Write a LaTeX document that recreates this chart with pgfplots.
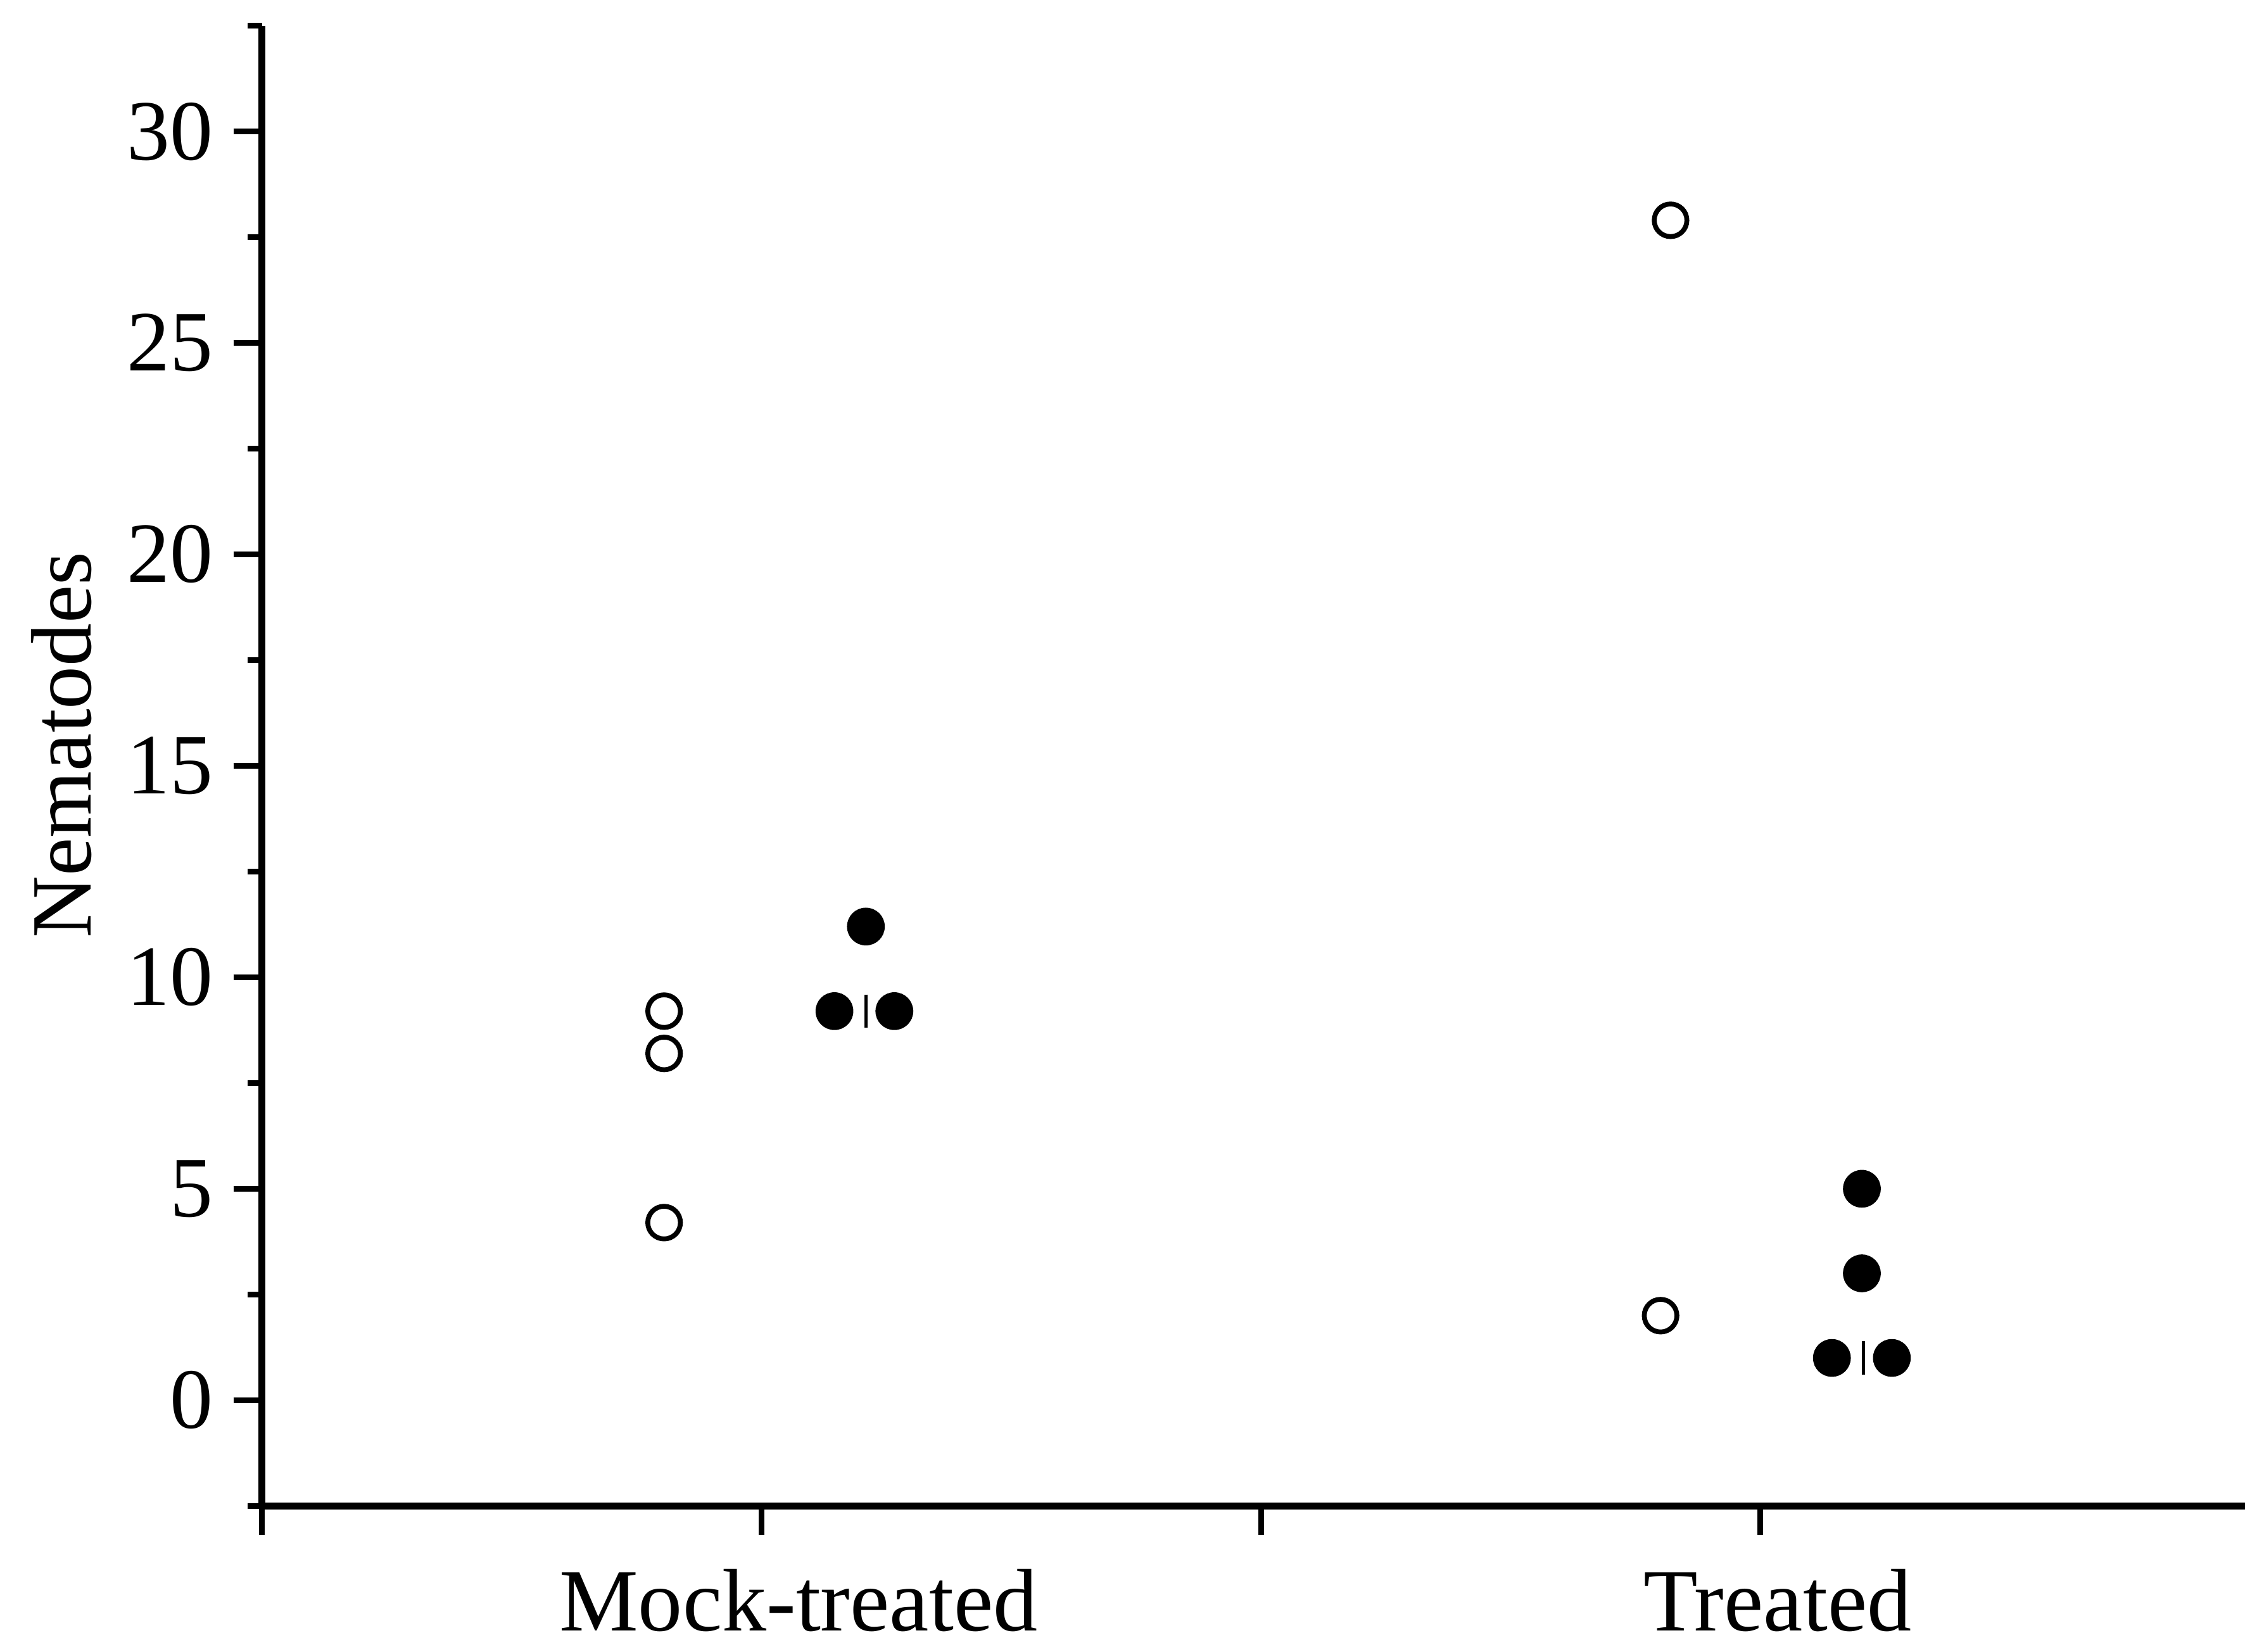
\documentclass[border=0pt]{standalone}
\usepackage{fontspec}
\setmainfont{Liberation Serif}
\usepackage{pgfplots}
\pgfplotsset{compat=1.18}
\begin{document}
\begin{tikzpicture}
\path[use as bounding box] (-45.75pt,-25.5pt) rectangle (346.25pt,263pt);
\begin{axis}[
  at={(0,0)}, anchor=south west,
  scale only axis, width=346.25pt, height=258.5pt,
  xmin=0, xmax=3.97, ymin=-2.5, ymax=32.5,
  axis x line=bottom, axis y line=left,
  axis line style={-, line width=1.2pt},
  tick align=outside,
  xtick={0,1,2,3}, xticklabels={},
  ytick={0,5,...,30},
  minor ytick={-2.5,2.5,...,32.5},
  major tick length=5pt, minor tick length=2.5pt,
  every tick/.style={black, line width=1pt},
  extra x ticks={1.074,3.034},
  extra x tick labels={Mock-treated,Treated},
  extra x tick style={major tick length=0pt, tick label style={font=\fontsize{15.5}{18}\selectfont, yshift=-7.5pt}},
  y tick label style={font=\fontsize{15}{18}\selectfont},
  /pgf/number format/assume math mode=true,
  ylabel={Nematodes},
  ylabel style={font=\fontsize{15}{18}\selectfont, at={(axis description cs:-0.101,0.514)}, anchor=center},
  clip=false,
]
% Mock-treated, open
\addplot[only marks, mark=o, mark size=2.85pt, mark options={line width=0.85pt, black}] coordinates {(0.805,4.2)(0.805,8.2)(0.805,9.2)};
% Mock-treated, filled
\addplot[only marks, mark=*, mark size=3.1pt, mark options={black, fill=black}] coordinates {(1.146,9.2)(1.266,9.2)(1.209,11.2)};
% Treated, open
\addplot[only marks, mark=o, mark size=2.85pt, mark options={line width=0.85pt, black}] coordinates {(2.82,27.9)(2.80,2.0)};
% Treated, filled
\addplot[only marks, mark=*, mark size=3.1pt, mark options={black, fill=black}] coordinates {(3.143,1.0)(3.263,1.0)(3.203,3.0)(3.203,5.0)};
% median bars
\addplot[only marks, mark=|, mark size=2.9pt, mark options={line width=0.6pt, black}] coordinates {(1.209,9.2)(3.206,1.0)};
\end{axis}
\end{tikzpicture}
\end{document}
